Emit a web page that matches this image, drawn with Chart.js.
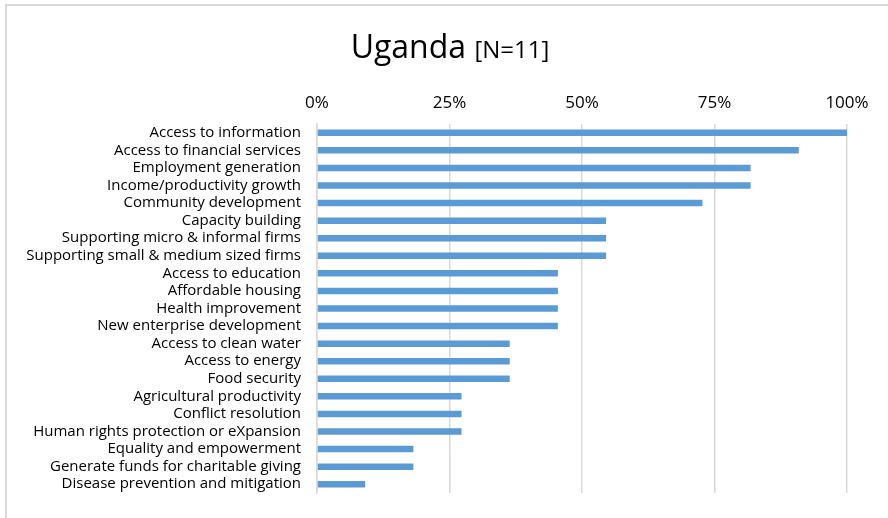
<!DOCTYPE html>
<html lang="en">
<head>
  <meta charset="UTF-8" />
  <title>Uganda [N=11]</title>
  <script src="https://cdn.jsdelivr.net/npm/chart.js"></script>
  <style>
    html, body {
      margin: 0;
      padding: 0;
      background: #fff;
      overflow: hidden;
    }
    #frame {
      position: absolute;
      left: 5px;
      top: 4px;
      width: 900px;
      height: 530px;
      border: 2px solid #d9d9d9;
    }
    #wrap {
      position: absolute;
      left: 0;
      top: 0;
      width: 888px;
      height: 518px;
    }
  </style>
</head>
<body>
  <div id="frame"></div>
  <div id="wrap"><canvas id="chart"></canvas></div>
  <script>
    const categories = [
      "Access to information",
      "Access to financial services",
      "Employment generation",
      "Income/productivity growth",
      "Community development",
      "Capacity building",
      "Supporting micro & informal firms",
      "Supporting small & medium sized firms",
      "Access to education",
      "Affordable housing",
      "Health improvement",
      "New enterprise development",
      "Access to clean water",
      "Access to energy",
      "Food security",
      "Agricultural productivity",
      "Conflict resolution",
      "Human rights protection or eXpansion",
      "Equality and empowerment",
      "Generate funds for charitable giving",
      "Disease prevention and mitigation"
    ];
    // respondents out of N=11
    const counts = [11, 10, 9, 9, 8, 6, 6, 6, 5, 5, 5, 5, 4, 4, 4, 3, 3, 3, 2, 2, 1];
    const N = 11;
    const shares = counts.map(c => c / N);
    const tickLabels = ["0%", "25%", "50%", "75%", "100%"];

    const font = "'Open Sans', Lato, sans-serif";

    // title with a smaller bracketed sample size
    const titlePlugin = {
      id: 'splitTitle',
      afterDraw(chart) {
        const c = chart.ctx;
        c.save();
        c.fillStyle = '#000';
        c.textBaseline = 'alphabetic';
        const big = "Uganda ";
        const small = "[N=11]";
        c.font = "32px " + font;
        const w1 = c.measureText(big).width;
        c.font = "24px " + font;
        const w2 = c.measureText(small).width;
        const x0 = 450 - (w1 + w2) / 2;
        c.font = "32px " + font;
        c.fillText(big, x0, 58);
        c.font = "24px " + font;
        c.fillText(small, x0 + w1, 58);
        c.restore();
      }
    };

    new Chart(document.getElementById('chart'), {
      type: 'bar',
      data: {
        labels: categories,
        datasets: [{
          data: shares,
          backgroundColor: '#5b9bd5',
          barPercentage: 0.37,
          categoryPercentage: 1
        }]
      },
      options: {
        indexAxis: 'y',
        responsive: true,
        maintainAspectRatio: false,
        animation: false,
        layout: { padding: { top: 83, right: 41, bottom: 23, left: 0 } },
        plugins: {
          legend: { display: false },
          tooltip: { enabled: false }
        },
        scales: {
          x: {
            position: 'top',
            min: 0,
            max: 1,
            afterFit(scale) { scale.height = 41; },
            ticks: {
              stepSize: 0.25,
              color: '#000',
              padding: 11,
              font: { family: font, size: 17 },
              callback: (v, i) => tickLabels[i]
            },
            grid: { color: '#d9d9d9', lineWidth: 1.5, drawTicks: false },
            border: { display: false }
          },
          y: {
            afterFit(scale) { scale.width = 317; },
            ticks: {
              color: '#000',
              padding: 16,
              autoSkip: false,
              font: { family: font, size: 15 }
            },
            grid: { display: false, drawTicks: false },
            border: { color: '#d9d9d9', width: 1.5 }
          }
        }
      },
      plugins: [titlePlugin]
    });
  </script>
</body>
</html>
